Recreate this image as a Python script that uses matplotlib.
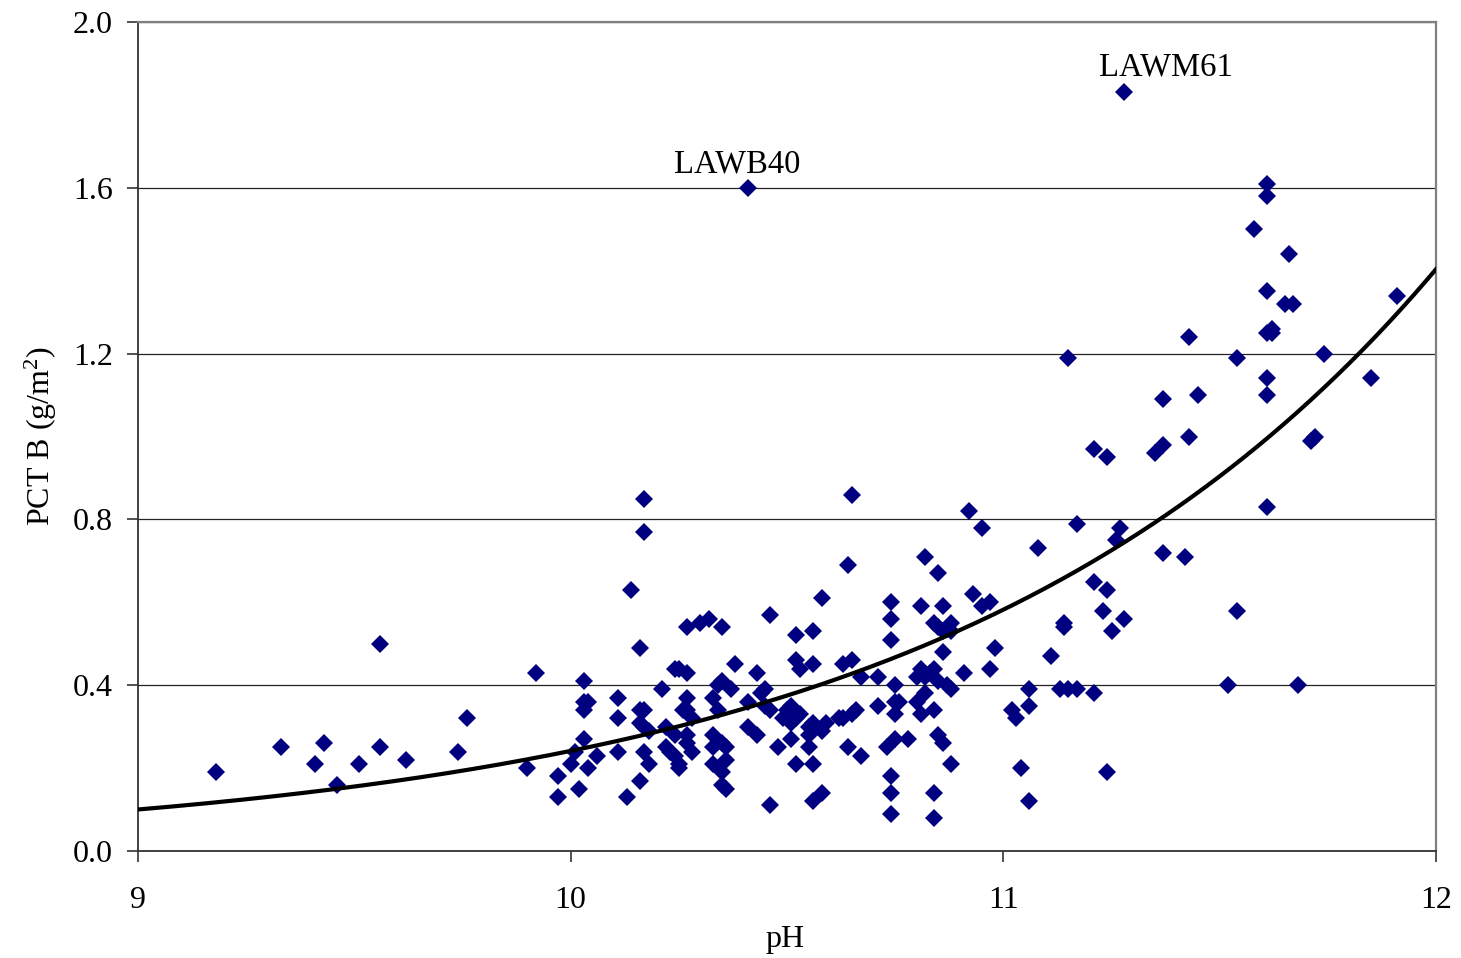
import numpy as np
import matplotlib
matplotlib.use("Agg")
import matplotlib.pyplot as plt

plt.rcParams["font.family"] = ["Liberation Serif", "DejaVu Serif"]
plt.rcParams["mathtext.fontset"] = "custom"
plt.rcParams["mathtext.rm"] = "Liberation Serif"
plt.rcParams["mathtext.it"] = "Liberation Serif:italic"

# sample pH and PCT B (g/m2)
ph = [
    9.18, 9.33, 9.41, 9.43, 9.46, 9.51, 9.56, 9.56, 9.62, 9.74, 9.76, 9.90, 9.92, 9.97, 9.97,
    10.17, 10.17, 10.14, 10.27, 10.30, 10.32, 10.35, 10.46, 10.52, 10.16, 10.03, 10.03, 10.04,
    10.03, 10.11, 10.11, 10.21, 10.27, 10.16, 10.17, 10.16, 10.17, 10.18, 10.22, 10.24, 10.25,
    10.27, 10.33, 10.34, 10.35, 10.37, 10.38, 10.43, 10.44, 10.45, 10.41, 10.34, 10.26, 10.27,
    10.28, 10.03, 10.01, 10.00, 10.06, 10.04, 10.02, 10.11, 10.13, 10.16, 10.18, 10.17, 10.22,
    10.23, 10.24, 10.25, 10.25, 10.24, 10.27, 10.27, 10.28, 10.33, 10.33, 10.35, 10.36, 10.36,
    10.33, 10.35, 10.35, 10.36, 10.41, 10.43, 10.48, 10.51, 10.52, 10.46, 10.45, 10.46, 10.51,
    10.52, 10.51, 10.52, 10.53,
    10.65, 10.64, 10.58, 10.56, 10.56, 10.63, 10.65, 10.67, 10.71, 10.74, 10.74, 10.74, 10.75,
    10.81, 10.82, 10.85, 10.86, 10.84, 10.85, 10.86, 10.88, 10.88, 10.86, 10.81, 10.83, 10.84,
    10.80, 10.82, 10.85, 10.87, 10.88, 10.82, 10.80, 10.81, 10.84, 10.91, 10.92, 10.95, 10.93,
    10.95, 10.97, 10.98, 10.97, 11.08, 11.06, 11.06, 11.02, 11.03, 11.04, 11.06, 10.50, 10.53,
    10.49, 10.55, 10.55, 10.55, 10.56, 10.58, 10.56, 10.56, 10.58, 10.59, 10.62, 10.63, 10.65,
    10.66, 10.64, 10.67, 10.71, 10.75, 10.76, 10.75, 10.73, 10.75, 10.78, 10.74, 10.74, 10.74,
    10.85, 10.86, 10.88, 10.84, 10.84,
    11.43, 11.15, 11.54, 11.45, 11.37, 11.43, 11.37, 11.35, 11.21, 11.24, 11.17, 11.27, 11.26,
    11.37, 11.42, 11.21, 11.24, 11.23, 11.28, 11.25, 11.14, 11.14, 11.54, 11.11, 11.13, 11.15,
    11.17, 11.21, 11.52, 11.24,
    11.61, 11.61, 11.58, 11.66, 11.61, 11.65, 11.67, 11.91, 11.61, 11.62, 11.62, 11.74, 11.61,
    11.61, 11.85, 11.71, 11.72, 11.61, 11.68,
    10.41, 11.28,
]
pct_b = [
    0.19, 0.25, 0.21, 0.26, 0.16, 0.21, 0.25, 0.50, 0.22, 0.24, 0.32, 0.20, 0.43, 0.13, 0.18,
    0.85, 0.77, 0.63, 0.54, 0.55, 0.56, 0.54, 0.57, 0.52, 0.49, 0.41, 0.36, 0.36,
    0.34, 0.37, 0.32, 0.39, 0.37, 0.34, 0.34, 0.31, 0.30, 0.29, 0.30, 0.44, 0.44,
    0.43, 0.37, 0.40, 0.41, 0.39, 0.45, 0.43, 0.38, 0.39, 0.36, 0.34, 0.34, 0.34,
    0.32, 0.27, 0.24, 0.21, 0.23, 0.20, 0.15, 0.24, 0.13, 0.17, 0.21, 0.24, 0.25,
    0.24, 0.23, 0.21, 0.20, 0.28, 0.28, 0.26, 0.24, 0.28, 0.25, 0.26, 0.25, 0.22,
    0.21, 0.19, 0.16, 0.15, 0.30, 0.28, 0.25, 0.27, 0.21, 0.11, 0.35, 0.34, 0.35,
    0.32, 0.31, 0.46, 0.44,
    0.86, 0.69, 0.61, 0.53, 0.45, 0.45, 0.46, 0.42, 0.42, 0.60, 0.56, 0.51, 0.40,
    0.59, 0.71, 0.67, 0.59, 0.55, 0.54, 0.53, 0.55, 0.53, 0.48, 0.44, 0.43, 0.44,
    0.42, 0.42, 0.41, 0.40, 0.39, 0.38, 0.36, 0.33, 0.34, 0.43, 0.82, 0.78, 0.62,
    0.59, 0.60, 0.49, 0.44, 0.73, 0.39, 0.35, 0.34, 0.32, 0.20, 0.12, 0.34, 0.33,
    0.32, 0.30, 0.28, 0.25, 0.31, 0.29, 0.21, 0.12, 0.14, 0.31, 0.32, 0.32, 0.33,
    0.34, 0.25, 0.23, 0.35, 0.36, 0.36, 0.33, 0.25, 0.27, 0.27, 0.18, 0.14, 0.09,
    0.28, 0.26, 0.21, 0.14, 0.08,
    1.24, 1.19, 1.19, 1.10, 1.09, 1.00, 0.98, 0.96, 0.97, 0.95, 0.79, 0.78, 0.75,
    0.72, 0.71, 0.65, 0.63, 0.58, 0.56, 0.53, 0.55, 0.54, 0.58, 0.47, 0.39, 0.39,
    0.39, 0.38, 0.40, 0.19,
    1.61, 1.58, 1.50, 1.44, 1.35, 1.32, 1.32, 1.34, 1.25, 1.26, 1.25, 1.20, 1.14,
    1.10, 1.14, 0.99, 1.00, 0.83, 0.40,
    1.60, 1.83,
]

# labelled outliers: (name, pH, PCT B, text offset in points)
outliers = [("LAWB40", 10.41, 1.60, (-8, 11)), ("LAWM61", 11.28, 1.83, (30, 12))]

# exponential trendline  y = a * exp(b * pH)
fit_a = 3.64e-5
fit_b = 0.88

fig = plt.figure(figsize=(14.61, 9.58), dpi=100)
ax = fig.add_axes([138 / 1461, 1 - 851 / 958, (1436 - 138) / 1461, (851 - 22) / 958])

ax.plot(ph, pct_b, linestyle="none", marker="D", markersize=9,
        color="#000080", markeredgewidth=0, zorder=3)

xs = np.linspace(9, 12, 300)
ax.plot(xs, fit_a * np.exp(fit_b * xs), color="black", linewidth=3.0, zorder=4)

for name, x, y, off in outliers:
    ax.annotate(name, (x, y), xytext=off, textcoords="offset points",
                ha="center", va="baseline", fontsize=23.5)

ax.set_xlim(9, 12)
ax.set_ylim(0, 2.0)
ax.set_xticks([9, 10, 11, 12])
ax.set_yticks(np.arange(0, 2.01, 0.4))
ax.yaxis.set_major_formatter(matplotlib.ticker.FormatStrFormatter("%.1f"))
ax.tick_params(direction="out", length=8, width=1.1, labelsize=23, color="#222222")
ax.tick_params(axis="y", pad=10)
ax.tick_params(axis="x", pad=17)

ax.grid(axis="y", color="#222222", linewidth=0.9, zorder=0)
ax.set_axisbelow(True)
for side in ("top", "right"):
    ax.spines[side].set_color("#808080")
    ax.spines[side].set_linewidth(1.6)
for side in ("left", "bottom"):
    ax.spines[side].set_color("#333333")
    ax.spines[side].set_linewidth(1.3)

ax.set_xlabel("pH", fontsize=23)
ax.xaxis.set_label_coords(0.4985, -0.1158)
ax.xaxis.label.set_va("baseline")
ax.set_ylabel("PCT B (g/m$^\\mathrm{2}$)", fontsize=23)
ax.yaxis.set_label_coords(-0.075, 0.5)
ax.yaxis.label.set_va("center")

fig.savefig("out.png", dpi=100)
